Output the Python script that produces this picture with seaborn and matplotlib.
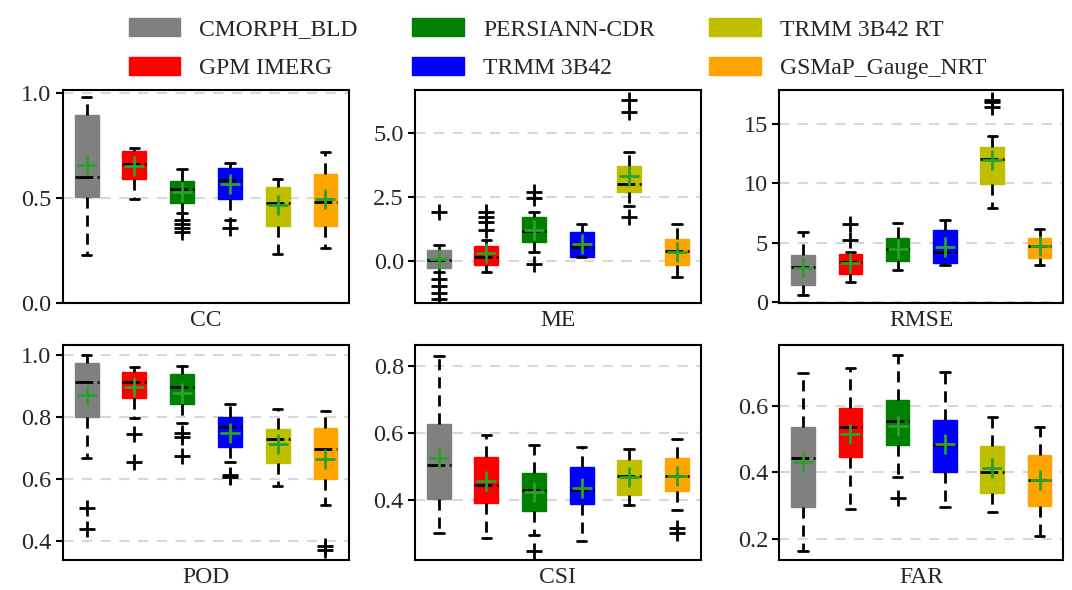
import matplotlib
matplotlib.use("Agg")
import matplotlib.pyplot as plt
import matplotlib.patches as mpatches
import seaborn as sns

products = ["CMORPH_BLD", "GPM IMERG", "PERSIANN-CDR", "TRMM 3B42", "TRMM 3B42 RT", "GSMaP_Gauge_NRT"]
colors = ["#808080", "#ff0000", "#008000", "#0000ff", "#bfbf00", "#ffa500"]
metrics = ["CC", "ME", "RMSE", "POD", "CSI", "FAR"]

# each row: whislo, q1, median, q3, whishi, mean
cc = [[0.229, 0.503, 0.598, 0.894, 0.978, 0.657],
      [0.498, 0.592, 0.660, 0.723, 0.739, 0.653],
      [0.430, 0.476, 0.543, 0.581, 0.638, 0.527],
      [0.396, 0.498, 0.587, 0.641, 0.668, 0.565],
      [0.237, 0.367, 0.476, 0.554, 0.589, 0.467],
      [0.261, 0.367, 0.483, 0.616, 0.720, 0.498]]
cc_out = [[], [], [0.396, 0.377, 0.358, 0.340], [0.359], [], []]

me = [[-0.42, -0.29, 0.05, 0.43, 0.62, 0.08],
      [-0.44, -0.18, 0.17, 0.59, 0.82, 0.30],
      [0.36, 0.72, 1.15, 1.71, 1.90, 1.21],
      [0.17, 0.17, 0.53, 1.12, 1.46, 0.65],
      [2.16, 2.68, 3.00, 3.72, 4.27, 3.33],
      [-0.65, -0.16, 0.40, 0.86, 1.46, 0.36]]
me_out = [[1.90, -0.70, -0.98, -1.25, -1.48], [1.93, 1.73, 1.54, 1.21],
          [2.71, 2.48, -0.13], [], [6.30, 5.81, 1.73], []]

rmse = [[0.62, 1.44, 2.93, 3.97, 5.94, 2.84],
        [1.74, 2.34, 3.35, 4.08, 4.19, 3.26],
        [2.73, 3.43, 4.50, 5.38, 6.64, 4.47],
        [3.12, 3.29, 4.19, 6.11, 6.95, 4.62],
        [7.94, 9.96, 12.02, 13.06, 13.96, 11.99],
        [3.15, 3.74, 4.70, 5.40, 6.16, 4.70]]
rmse_out = [[], [6.59, 5.24], [], [], [17.06, 16.85, 16.45], []]

pod = [[0.667, 0.802, 0.913, 0.976, 1.000, 0.872],
       [0.796, 0.861, 0.915, 0.947, 0.961, 0.897],
       [0.782, 0.843, 0.897, 0.940, 0.966, 0.879],
       [0.654, 0.705, 0.767, 0.802, 0.843, 0.750],
       [0.579, 0.653, 0.730, 0.761, 0.826, 0.712],
       [0.516, 0.600, 0.696, 0.764, 0.819, 0.665]]
pod_out = [[0.508, 0.438], [0.746, 0.656], [0.750, 0.735, 0.675], [0.615, 0.608], [], [0.384, 0.372]]

csi = [[0.302, 0.403, 0.506, 0.626, 0.830, 0.526],
       [0.288, 0.393, 0.445, 0.528, 0.596, 0.458],
       [0.297, 0.369, 0.430, 0.483, 0.566, 0.426],
       [0.281, 0.389, 0.432, 0.501, 0.559, 0.436],
       [0.387, 0.416, 0.472, 0.520, 0.552, 0.470],
       [0.373, 0.428, 0.473, 0.526, 0.582, 0.472]]
csi_out = [[], [], [0.251], [], [], [0.317, 0.302]]

far = [[0.166, 0.296, 0.442, 0.535, 0.697, 0.432],
       [0.290, 0.445, 0.535, 0.594, 0.712, 0.514],
       [0.387, 0.481, 0.555, 0.617, 0.751, 0.539],
       [0.296, 0.400, 0.482, 0.557, 0.699, 0.484],
       [0.283, 0.338, 0.402, 0.480, 0.565, 0.414],
       [0.210, 0.300, 0.376, 0.451, 0.535, 0.376]]
far_out = [[], [], [0.323], [], [], []]

all_stats = [cc, me, rmse, pod, csi, far]
all_out = [cc_out, me_out, rmse_out, pod_out, csi_out, far_out]
ylims = [(0, 1.013), (-1.67, 6.69), (-0.11, 17.87), (0.339, 1.034), (0.223, 0.863), (0.138, 0.782)]
yticks = [[0, 0.5, 1.0], [0, 2.5, 5.0], [0, 5, 10, 15], [0.4, 0.6, 0.8, 1.0], [0.4, 0.6, 0.8], [0.2, 0.4, 0.6]]
ylabfmt = ["%.1f", "%.1f", "%d", "%.1f", "%.1f", "%.1f"]

sns.set_style("ticks")
plt.rcParams["font.family"] = ["Liberation Serif", "DejaVu Serif"]

fig = plt.figure(figsize=(10.72, 5.9), dpi=100)

lefts = [0.0585, 0.3871, 0.727]
widths = [0.2674, 0.2665, 0.2649]
bottoms = [0.4856, 0.0508]
heights = [0.3619, 0.3649]

for i, name in enumerate(metrics):
    r, c = divmod(i, 3)
    ax = fig.add_axes([lefts[c], bottoms[r], widths[c], heights[r]])
    stats = []
    for j in range(6):
        lo, q1, med, q3, hi, mean = all_stats[i][j]
        stats.append(dict(whislo=lo, q1=q1, med=med, q3=q3, whishi=hi,
                          mean=mean, fliers=all_out[i][j], label=""))
    bp = ax.bxp(stats, positions=range(1, 7), widths=0.5, capwidths=0.2,
                patch_artist=True, showmeans=True, showfliers=True,
                boxprops=dict(linewidth=1),
                whiskerprops=dict(color="black", linestyle=(0, (4, 2.5)), linewidth=2),
                capprops=dict(color="black", linewidth=2),
                medianprops=dict(color="black", linestyle="-.", linewidth=2),
                meanprops=dict(marker="+", markeredgecolor="#2ca02c", markersize=14, markeredgewidth=2),
                flierprops=dict(marker="+", markeredgecolor="black", markersize=12, markeredgewidth=2))
    for patch, col in zip(bp["boxes"], colors):
        patch.set_facecolor(col)
        patch.set_edgecolor(col)
    ax.set_xlim(0.5, 6.5)
    ax.set_ylim(*ylims[i])
    ax.set_yticks(yticks[i])
    ax.set_yticklabels([ylabfmt[i] % v for v in yticks[i]], fontsize=17.5)
    ax.set_xticks([])
    ax.set_xlabel(name, fontsize=17, labelpad=5)
    ax.yaxis.grid(True, linestyle=(0, (5, 4)), color="#d8d8d8", linewidth=1.5)
    ax.set_axisbelow(True)
    ax.tick_params(axis="y", length=5, width=1.5, color="black", pad=3)
    for s in ax.spines.values():
        s.set_linewidth(1.5)
        s.set_color("black")

handles = [mpatches.Patch(facecolor=col, edgecolor=col, label=p) for p, col in zip(products, colors)]
fig.legend(handles=handles, ncol=3, loc="upper center", bbox_to_anchor=(0.52, 1.005),
           frameon=False, fontsize=17, handlelength=2.2, handleheight=0.8,
           handletextpad=0.8, columnspacing=2.3, labelspacing=0.7)

fig.savefig("out.png", dpi=100)
